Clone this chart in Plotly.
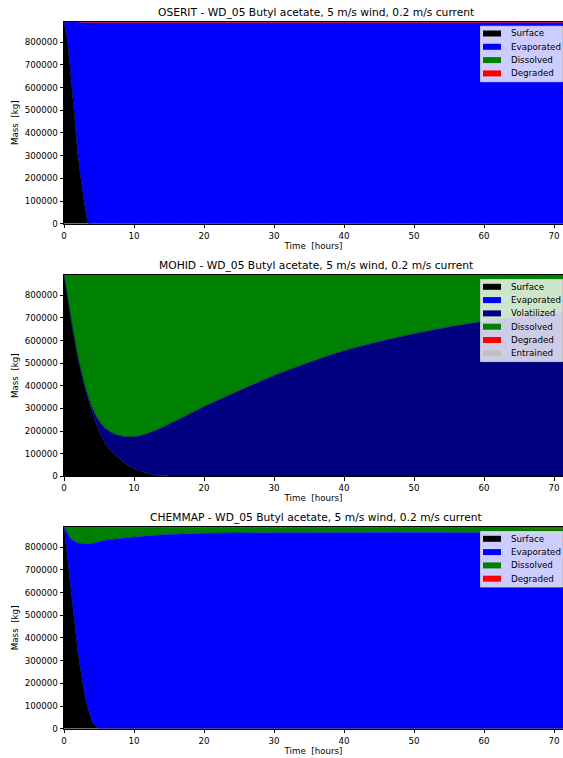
import plotly.graph_objects as go

# ---------------- data ----------------
TOTAL = 890000

# OSERIT
oserit_t = [0, 0.5, 1, 1.5, 2, 2.5, 3, 3.5, 4, 6, 12, 24, 36, 48, 60, 72]
oserit_surface = [890000, 800000, 648000, 475000, 300000, 178000, 75000, 0, 0, 0, 0, 0, 0, 0, 0, 0]
oserit_dissolved = [0, 0, 0, 0, 0, 0, 0, 0, 0, 0, 0, 0, 0, 0, 0, 0]
oserit_degraded = [0, 500, 1000, 1500, 2000, 2500, 3000, 3500, 3800, 4000, 4000, 4000, 4000, 4000, 4000, 4000]

# MOHID
mohid_t = [0, 0.5, 1, 2, 3, 4, 5, 6, 7, 8, 9, 10, 11, 12, 13, 14, 16, 18, 20,
           25, 30, 35, 40, 45, 50, 55, 60, 65, 70, 72]
mohid_surface = [890000, 790000, 690000, 520000, 390000, 290000, 200000, 140000, 105000,
                 75000, 52000, 35000, 22000, 12000, 6000, 2500, 0, 0, 0,
                 0, 0, 0, 0, 0, 0, 0, 0, 0, 0, 0]
mohid_surf_plus_volat = [890000, 795000, 700000, 528000, 400000, 305000, 245000, 210000, 190000,
                         179000, 174000, 175000, 180000, 190000, 202000, 216000, 246000, 277000, 308000,
                         378000, 445000, 503000, 555000, 595000, 630000, 660000, 685000, 705000, 722000, 728000]

# CHEMMAP
chem_t = [0, 1, 2, 3, 4, 5, 6, 8, 10, 12, 15, 18, 20, 25, 30, 40, 50, 60, 70, 72]
chem_surface = [889000, 600000, 330000, 140000, 28000, 0, 0, 0, 0, 0, 0, 0, 0, 0, 0, 0, 0, 0, 0, 0]
chem_surf_plus_evap = [889000, 835000, 818000, 815000, 816000, 825000, 831000, 838000, 845000, 850000,
                       856000, 860000, 861000, 863000, 864000, 865000, 865000, 864000, 863000, 862000]
chem_degraded = [0, 0, 0, 0, 0, 0, 0, 100, 200, 300, 500, 700, 900, 1300, 1700, 2500, 3300, 4100, 4900, 5200]
CHEM_TOTAL = 889000

x_ticks = [0, 10, 20, 30, 40, 50, 60, 70]
y_ticks = [0, 100000, 200000, 300000, 400000, 500000, 600000, 700000, 800000]

titles = ["OSERIT - WD_05 Butyl acetate, 5 m/s wind, 0.2 m/s current",
          "MOHID - WD_05 Butyl acetate, 5 m/s wind, 0.2 m/s current",
          "CHEMMAP - WD_05 Butyl acetate, 5 m/s wind, 0.2 m/s current"]

# ---------------- derived series ----------------
oserit_evap = [TOTAL - s - d - g for s, d, g in zip(oserit_surface, oserit_dissolved, oserit_degraded)]
mohid_volat = [sv - s for sv, s in zip(mohid_surf_plus_volat, mohid_surface)]
mohid_dissolved = [TOTAL - sv for sv in mohid_surf_plus_volat]
mohid_zero = [0] * len(mohid_t)
chem_evap = [se - s for se, s in zip(chem_surf_plus_evap, chem_surface)]
chem_dissolved = [CHEM_TOTAL - se - g for se, g in zip(chem_surf_plus_evap, chem_degraded)]

COL = {"Surface": "#000000", "Evaporated": "#0000ff", "Volatilized": "#000080",
       "Dissolved": "#008000", "Degraded": "#ff0000", "Entrained": "#c0c0c0"}

panels = [
    (oserit_t, [("Surface", oserit_surface), ("Evaporated", oserit_evap),
                ("Dissolved", oserit_dissolved), ("Degraded", oserit_degraded)]),
    (mohid_t, [("Surface", mohid_surface), ("Evaporated", mohid_zero), ("Volatilized", mohid_volat),
               ("Dissolved", mohid_dissolved), ("Degraded", mohid_zero), ("Entrained", mohid_zero)]),
    (chem_t, [("Surface", chem_surface), ("Evaporated", chem_evap),
              ("Dissolved", chem_dissolved), ("Degraded", chem_degraded)]),
]
line_shapes = ["spline", "spline", "linear"]

W, H = 563, 758
ML = 64
PW = W - ML
# plot area pixel extents (top, bottom)
areas = [(21.7, 223.7), (275.0, 476.3), (527.0, 728.7)]
XMAX = (W - ML) / 7.0

FONT = "DejaVu Sans"
fig = go.Figure()


def px_x(x):
    return (x - ML) / PW


def px_y(y):
    return 1 - y / H


for i, (t, series) in enumerate(panels):
    xa = "x" if i == 0 else f"x{i+1}"
    ya = "y" if i == 0 else f"y{i+1}"
    for name, vals in series:
        ln = dict(color=COL[name], width=0.6 if max(vals) > 0 else 0, shape=line_shapes[i])
        if line_shapes[i] == "spline":
            ln["smoothing"] = 0.6
        fig.add_trace(go.Scatter(
            x=t, y=vals, name=name, mode="lines",
            stackgroup=f"s{i}", fillcolor=COL[name], line=ln,
            xaxis=xa, yaxis=ya, showlegend=False, hoverinfo="skip",
        ))

layout = dict(width=W, height=H, margin=dict(l=ML, r=0, t=0, b=0, autoexpand=False),
              paper_bgcolor="white", plot_bgcolor="white",
              font=dict(family=FONT, size=8.7, color="#000000"),
              annotations=[], shapes=[], showlegend=False)

for i, (top, bot) in enumerate(areas):
    sfx = "" if i == 0 else str(i + 1)
    y0 = 1 - bot / H
    y1 = 1 - top / H
    total = CHEM_TOTAL if i == 2 else TOTAL
    layout["xaxis" + sfx] = dict(
        domain=[0, 1], anchor="y" + sfx, range=[0, XMAX], automargin=False,
        tickvals=x_ticks, ticks="outside", ticklen=3.5, tickwidth=0.8, tickcolor="#000",
        showline=True, linecolor="#000", linewidth=0.8, mirror=True,
        showgrid=False, zeroline=False,
        tickfont=dict(size=8.7), title=dict(text="Time\u00a0 [hours]", font=dict(size=8.7), standoff=2),
    )
    layout["yaxis" + sfx] = dict(
        domain=[y0, y1], anchor="x" + sfx, range=[0, total], automargin=False,
        tickvals=y_ticks, tickformat="d", ticks="outside", ticklen=3.5, tickwidth=0.8, tickcolor="#000",
        showline=True, linecolor="#000", linewidth=0.8, mirror=False,
        showgrid=False, zeroline=False,
        tickfont=dict(size=8.7), title=dict(text="Mass\u00a0 [kg]", font=dict(size=8.7), standoff=4),
    )
    layout["annotations"].append(dict(
        text=titles[i], xref="paper", yref="paper", x=px_x(316), y=y1,
        xanchor="center", yanchor="bottom", yshift=1, showarrow=False,
        font=dict(size=10.7, family=FONT, color="#000"),
    ))
    # legend box (matplotlib-style), drawn with shapes + text
    names = [n for n, _ in panels[i][1]]
    first_c = top + 11.8
    step = 13.3
    last_c = first_c + step * (len(names) - 1)
    layout["shapes"].append(dict(
        type="rect", xref="paper", yref="paper",
        x0=px_x(480.5), x1=px_x(562.5), y0=px_y(last_c + 8.3), y1=px_y(top + 4.5),
        fillcolor="rgba(255,255,255,0.8)", line=dict(color="rgba(204,204,204,0.9)", width=1),
        layer="above",
    ))
    for k, n in enumerate(names):
        c = first_c + step * k
        layout["shapes"].append(dict(
            type="rect", xref="paper", yref="paper",
            x0=px_x(483), x1=px_x(501), y0=px_y(c + 3), y1=px_y(c - 3),
            fillcolor=COL[n], line=dict(width=0), layer="above",
        ))
        layout["annotations"].append(dict(
            text=n, xref="paper", yref="paper", x=px_x(508.5), y=px_y(c),
            xanchor="left", yanchor="middle", showarrow=False,
            font=dict(size=8.7, family=FONT, color="#000"),
        ))

fig.update_layout(**layout)
fig.write_html("out.html", config={"displayModeBar": False},
               post_script="document.body.style.margin='0';")
